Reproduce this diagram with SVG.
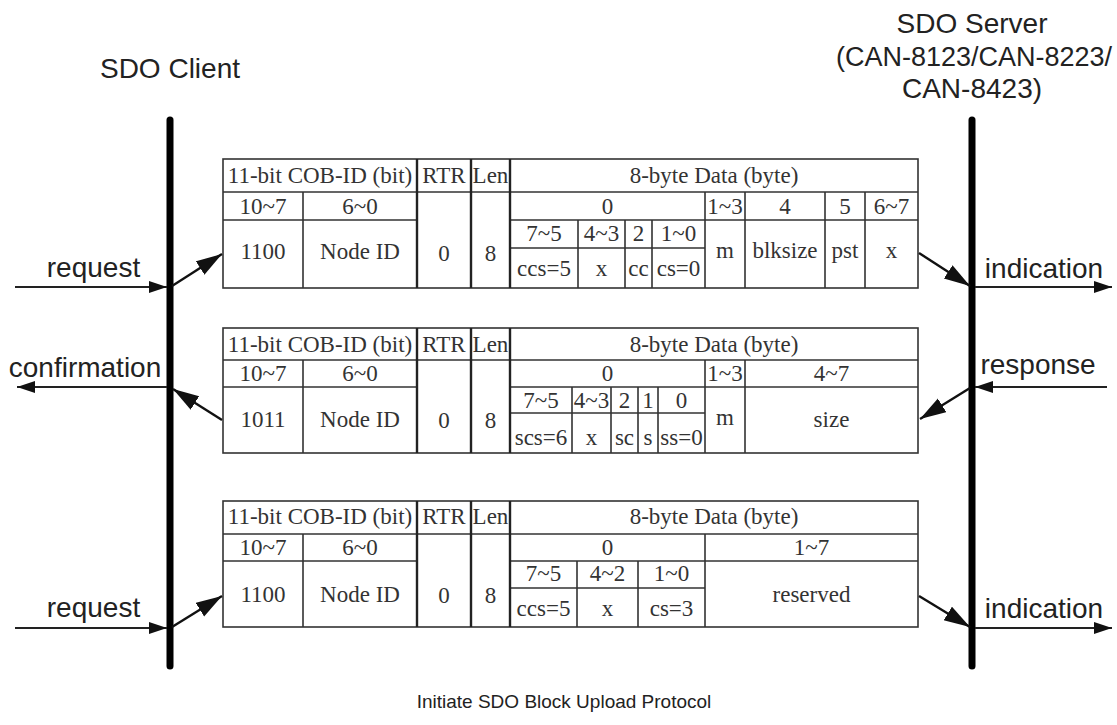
<svg xmlns="http://www.w3.org/2000/svg" width="1117" height="725" viewBox="0 0 1117 725">
<defs>
<marker id="ah" markerUnits="userSpaceOnUse" markerWidth="20" markerHeight="14" refX="18" refY="6" orient="auto">
<path d="M0,0 L18,6 L0,12 z" fill="#111"/>
</marker>
<marker id="ahd" markerUnits="userSpaceOnUse" markerWidth="28" markerHeight="18" refX="26" refY="8" orient="auto">
<path d="M0,0 L26,8 L0,16 z" fill="#111"/>
</marker>
<style>
.lbl{font-family:"Liberation Sans",Arial,sans-serif;font-size:28px;fill:#222;text-anchor:middle}
.t{font-family:"Liberation Serif","Times New Roman",serif;font-size:23px;fill:#333;text-anchor:middle}
.g{fill:none;stroke:#333;stroke-width:1.6}
.gb{fill:none;stroke:#222;stroke-width:2.4}
.life{stroke:#000;stroke-width:7;stroke-linecap:round}
.arr{stroke:#222;stroke-width:2;fill:none;marker-end:url(#ah)}
.dia{stroke:#111;stroke-width:2.4;fill:none;marker-end:url(#ahd)}
</style>
</defs>
<rect width="1117" height="725" fill="#fff"/>

<g id="client">
<text class="lbl" x="170" y="78">SDO Client</text>
<line class="life" x1="170" y1="120" x2="170" y2="666"/>
</g>

<g id="server">
<text class="lbl" x="972" y="33">SDO Server</text>
<text class="lbl" x="974" y="66" style="font-size:27px">(CAN-8123/CAN-8223/</text>
<text class="lbl" x="972" y="98">CAN-8423)</text>
<line class="life" x1="972" y1="120" x2="972" y2="666"/>
</g>

<g id="frame1">
<rect class="g" x="223" y="159" width="695" height="129"/>
<path class="g" d="M223,192H918 M223,220H417 M510,220H918 M510,248H705 M303,192V288 M578,220V288 M625,220V288 M652,220V288 M705,192V288 M745,192V288 M825,192V288 M865,192V288"/>
<path class="gb" d="M417,159V288 M471,159V288 M510,159V288"/>
<text class="t" x="320" y="183">11-bit COB-ID (bit)</text>
<text class="t" x="444" y="183">RTR</text>
<text class="t" x="490.5" y="183">Len</text>
<text class="t" x="714" y="183">8-byte Data (byte)</text>
<text class="t" x="263" y="214">10~7</text>
<text class="t" x="360" y="214">6~0</text>
<text class="t" x="607.5" y="214">0</text>
<text class="t" x="725" y="214">1~3</text>
<text class="t" x="785" y="214">4</text>
<text class="t" x="845" y="214">5</text>
<text class="t" x="891.5" y="214">6~7</text>
<text class="t" x="263" y="259">1100</text>
<text class="t" x="360" y="259">Node ID</text>
<text class="t" x="444" y="261">0</text>
<text class="t" x="490.5" y="261">8</text>
<text class="t" x="544" y="241">7~5</text>
<text class="t" x="601.5" y="241">4~3</text>
<text class="t" x="638.5" y="241">2</text>
<text class="t" x="678.5" y="241">1~0</text>
<text class="t" x="544" y="276">ccs=5</text>
<text class="t" x="601.5" y="276">x</text>
<text class="t" x="638.5" y="276">cc</text>
<text class="t" x="678.5" y="276">cs=0</text>
<text class="t" x="725" y="258">m</text>
<text class="t" x="785" y="258">blksize</text>
<text class="t" x="845" y="258">pst</text>
<text class="t" x="891.5" y="258">x</text>
</g>

<g id="frame2">
<rect class="g" x="223" y="328" width="695" height="125"/>
<path class="g" d="M223,360H918 M223,387H417 M510,387H918 M510,413H705 M303,360V453 M572,387V453 M611,387V453 M638,387V453 M658,387V453 M705,360V453 M745,360V453"/>
<path class="gb" d="M417,328V453 M471,328V453 M510,328V453"/>
<text class="t" x="320" y="352">11-bit COB-ID (bit)</text>
<text class="t" x="444" y="352">RTR</text>
<text class="t" x="490.5" y="352">Len</text>
<text class="t" x="714" y="352">8-byte Data (byte)</text>
<text class="t" x="263" y="381">10~7</text>
<text class="t" x="360" y="381">6~0</text>
<text class="t" x="607.5" y="381">0</text>
<text class="t" x="725" y="381">1~3</text>
<text class="t" x="831.5" y="381">4~7</text>
<text class="t" x="263" y="427">1011</text>
<text class="t" x="360" y="427">Node ID</text>
<text class="t" x="444" y="428">0</text>
<text class="t" x="490.5" y="428">8</text>
<text class="t" x="541" y="408">7~5</text>
<text class="t" x="591.5" y="408">4~3</text>
<text class="t" x="624.5" y="408">2</text>
<text class="t" x="648" y="408">1</text>
<text class="t" x="681.5" y="408">0</text>
<text class="t" x="541" y="445">scs=6</text>
<text class="t" x="591.5" y="445">x</text>
<text class="t" x="624.5" y="445">sc</text>
<text class="t" x="648" y="445">s</text>
<text class="t" x="681.5" y="445">ss=0</text>
<text class="t" x="725" y="425">m</text>
<text class="t" x="831.5" y="427">size</text>
</g>

<g id="frame3">
<rect class="g" x="223" y="501" width="695" height="126"/>
<path class="g" d="M223,534H918 M223,561H417 M510,561H918 M510,588H705 M303,534V627 M577,561V627 M638,561V627 M705,534V627"/>
<path class="gb" d="M417,501V627 M471,501V627 M510,501V627"/>
<text class="t" x="320" y="524">11-bit COB-ID (bit)</text>
<text class="t" x="444" y="524">RTR</text>
<text class="t" x="490.5" y="524">Len</text>
<text class="t" x="714" y="524">8-byte Data (byte)</text>
<text class="t" x="263" y="555">10~7</text>
<text class="t" x="360" y="555">6~0</text>
<text class="t" x="607.5" y="555">0</text>
<text class="t" x="811.5" y="555">1~7</text>
<text class="t" x="263" y="602">1100</text>
<text class="t" x="360" y="602">Node ID</text>
<text class="t" x="444" y="603">0</text>
<text class="t" x="490.5" y="603">8</text>
<text class="t" x="543.5" y="581">7~5</text>
<text class="t" x="607.5" y="581">4~2</text>
<text class="t" x="671.5" y="581">1~0</text>
<text class="t" x="543.5" y="616">ccs=5</text>
<text class="t" x="607.5" y="616">x</text>
<text class="t" x="671.5" y="616">cs=3</text>
<text class="t" x="811.5" y="602">reserved</text>
</g>

<g id="connectors">
<line class="arr" x1="15" y1="287" x2="167" y2="287"/>
<line class="dia" x1="172" y1="286" x2="222" y2="254"/>
<line class="dia" x1="919" y1="253" x2="970" y2="286"/>
<line class="arr" x1="975" y1="287" x2="1112" y2="287"/>
<line class="arr" x1="1107" y1="387" x2="975" y2="387"/>
<line class="dia" x1="970" y1="388" x2="920" y2="419"/>
<line class="dia" x1="222" y1="420" x2="173" y2="389"/>
<line class="arr" x1="167" y1="387" x2="17" y2="387"/>
<line class="arr" x1="15" y1="628" x2="167" y2="628"/>
<line class="dia" x1="172" y1="627" x2="222" y2="596"/>
<line class="dia" x1="919" y1="596" x2="970" y2="627"/>
<line class="arr" x1="975" y1="628" x2="1112" y2="628"/>
</g>

<g id="labels">
<text class="lbl" x="93.5" y="277">request</text>
<text class="lbl" x="85" y="377">confirmation</text>
<text class="lbl" x="1044" y="278">indication</text>
<text class="lbl" x="1038" y="374">response</text>
<text class="lbl" x="93.5" y="617">request</text>
<text class="lbl" x="1044" y="618">indication</text>
</g>

<g id="title">
<text class="lbl" x="564" y="708" style="font-size:19px">Initiate SDO Block Upload Protocol</text>
</g>
</svg>
